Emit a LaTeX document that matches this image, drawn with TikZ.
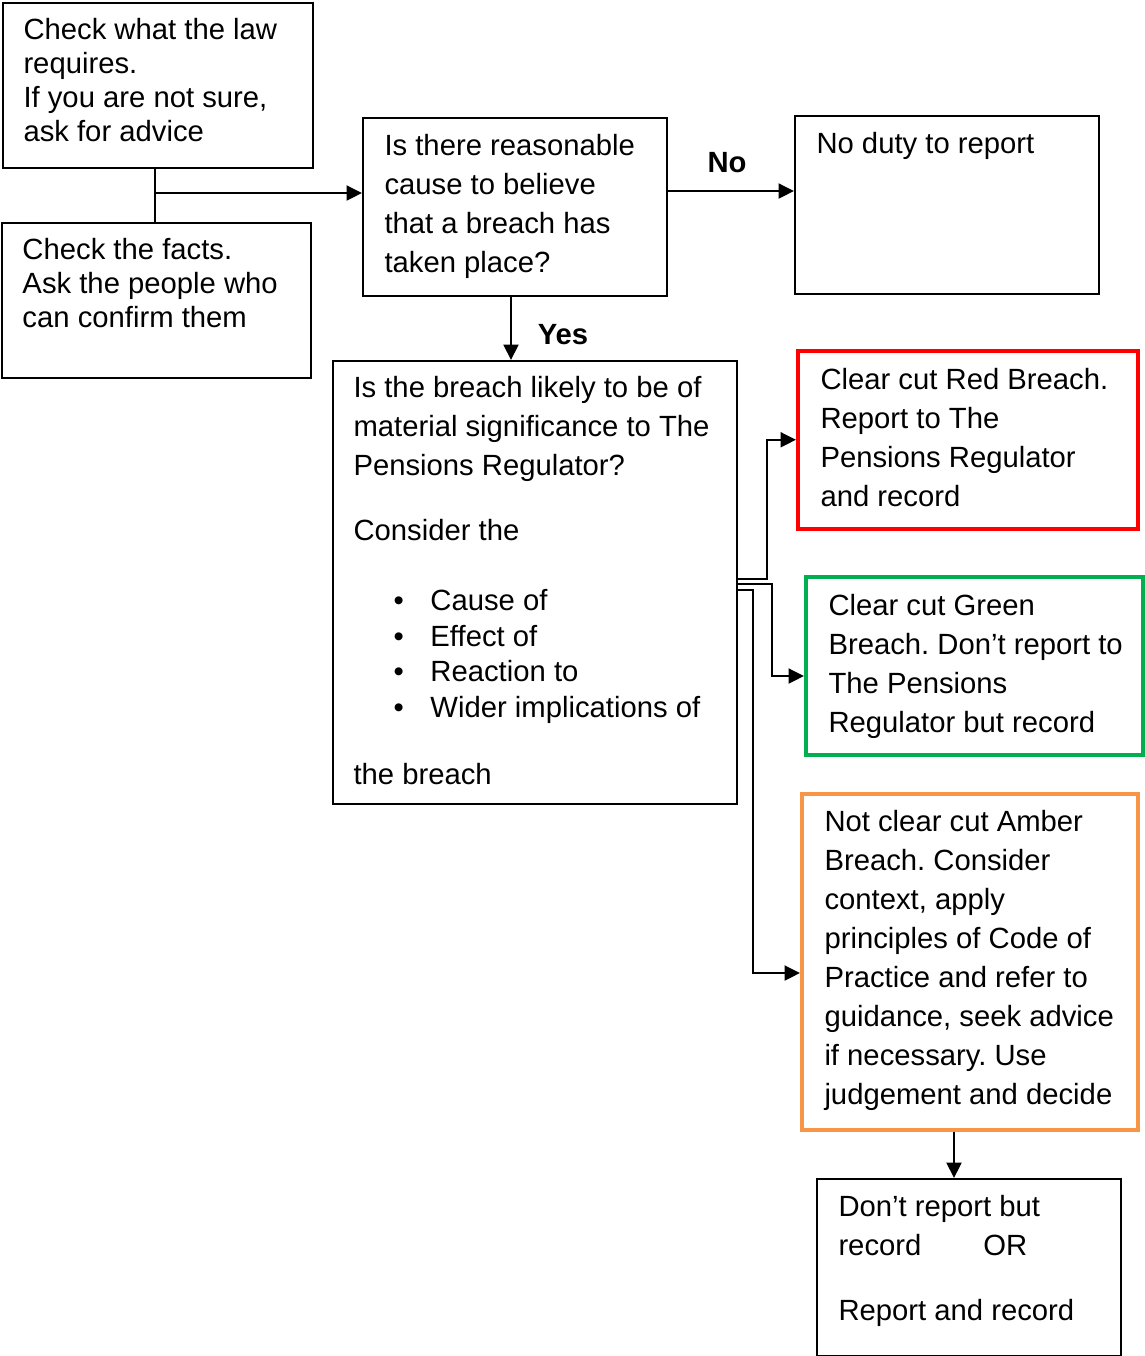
\documentclass[tikz,border=0pt]{standalone}
\usepackage{fontspec}
\setmainfont{Liberation Sans}
\usepackage{tikz}
\usetikzlibrary{arrows.meta}
\frenchspacing

\definecolor{breachred}{RGB}{255,0,0}
\definecolor{breachgreen}{RGB}{0,176,80}
\definecolor{breachamber}{RGB}{247,150,70}

\tikzset{
  box/.style={draw, line width=0.8pt, anchor=north west, inner sep=0pt},
  txt/.style={anchor=north west, inner sep=0pt, align=left, font=\fontsize{11.7}{15.6}\selectfont},
  tight/.style={font=\fontsize{11.7}{13.6}\selectfont},
  arr/.style={line width=0.8pt, -{Triangle[length=6.2pt,width=6pt]}},
}

\begin{document}
\begin{tikzpicture}[x=0.4pt,y=-0.4pt]
            \useasboundingbox (0,0) rectangle (1145,1356);

            % Boxes
            \node[box, minimum width=124pt, minimum height=66pt] (law) at (2,2) {};
            \node[box, minimum width=123.6pt, minimum height=62pt] (facts) at (1,222) {};
            \node[box, minimum width=121.6pt, minimum height=71.2pt] (cause) at (362,117) {};
            \node[box, minimum width=121.6pt, minimum height=71.2pt] (noduty) at (794,115) {};
            \node[box, minimum width=161.6pt, minimum height=177.2pt] (material) at (332,360) {};
            \node[box, draw=breachred, line width=1.6pt, minimum width=136pt, minimum height=71pt] (red) at (796,349) {};
            \node[box, draw=breachgreen, line width=1.6pt, minimum width=134.8pt, minimum height=71pt] (green) at (804,575) {};
            \node[box, draw=breachamber, line width=1.6pt, minimum width=134.4pt, minimum height=134.2pt] (amber) at (800,792) {};
            \node[box, minimum width=121.6pt, minimum height=70.8pt] (final) at (816,1178) {};

            % Texts
            \node[txt, tight] (lawtxt) at (23,18) {Check what the law\\requires.\\If you are not sure,\\ask for advice};
            \node[txt, tight] (factstxt) at (22,238) {Check the facts.\\Ask the people who\\can confirm them};
            \node[txt] (causetxt) at (384,134) {Is there reasonable\\cause to believe\\that a breach has\\taken place?};
            \node[txt] (nodutytxt) at (816,132) {No duty to report};
            \node[txt] (mattxt) at (353,376) {Is the breach likely to be of\\material significance to The\\Pensions Regulator?\\[10.4pt]Consider the};
            \node[txt, font=\fontsize{11.7}{14.2}\selectfont] (matlist) at (393,589) {%
              \makebox[14.8pt][l]{\textbullet}Cause of\\
              \makebox[14.8pt][l]{\textbullet}Effect of\\
              \makebox[14.8pt][l]{\textbullet}Reaction to\\
              \makebox[14.8pt][l]{\textbullet}Wider implications of};
            \node[txt] (matend) at (353,763) {the breach};
            \node[txt] (redtxt) at (820,368) {Clear cut Red Breach.\\Report to The\\Pensions Regulator\\and record};
            \node[txt] (greentxt) at (828,594) {Clear cut Green\\Breach. Don’t report to\\The Pensions\\Regulator but record};
            \node[txt] (ambertxt) at (824,810) {Not clear cut Amber\\Breach. Consider\\context, apply\\principles of Code of\\Practice and refer to\\guidance, seek advice\\if necessary. Use\\judgement and decide};
            \node[txt] (finaltxt) at (838,1195) {Don’t report but\\\makebox[58pt][l]{record}OR\\[10.4pt]Report and record};

            % Labels
            \node[font=\fontsize{11.7}{13.6}\selectfont\bfseries] (no) at (727,163) {No};
            \node[font=\fontsize{11.7}{13.6}\selectfont\bfseries] (yes) at (563,335) {Yes};

            % Connectors
            \coordinate (join) at (155,193);
            \draw[line width=0.8pt] (law.south -| join) -- (facts.north -| join);
            \draw[arr] (join) -- (join -| cause.west);

            \coordinate (nostart) at (667,191);
            \draw[arr] (nostart) -- (nostart -| noduty.west);

            \coordinate (yesline) at (511,0);
            \draw[arr] (cause.south -| yesline) -- (material.north -| yesline);

            \draw[arr] (material.east |- 0,579) -- (767,579) |- (red.west);
            \draw[arr] (material.east |- 0,584) -- (772,584) |- (green.west |- 0,676);
            \draw[arr] (material.east |- 0,590) -- (753,590) |- (amber.west |- 0,973);

            \coordinate (downline) at (954,0);
            \draw[arr] (amber.south -| downline) -- (final.north -| downline);

        \end{tikzpicture}
\end{document}
